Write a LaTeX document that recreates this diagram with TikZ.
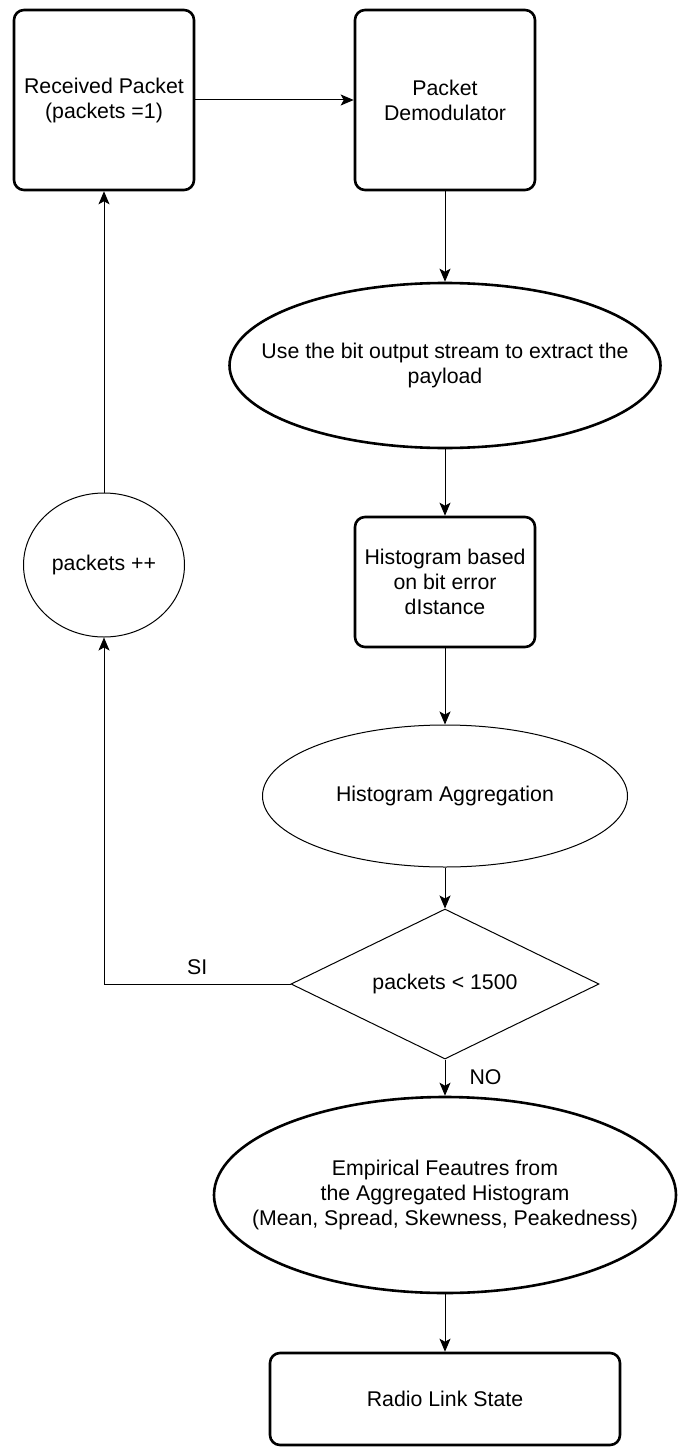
\documentclass[tikz,border=0pt]{standalone}
\usepackage{fontspec}
\setmainfont{Liberation Sans}
\usetikzlibrary{shapes.geometric, arrows.meta}

\begin{document}
\begin{tikzpicture}[x = 1pt, y = -1pt, line width = 1pt, >={Stealth[length = 13pt, width = 11pt, inset = 3pt]},
	every node/.style = {inner sep = 0pt, align = center, font = \fontsize{21.3}{25}\selectfont},
	blk/.style = {draw = black, shape = rectangle, rounded corners = 10pt, line width = 2.6pt, minimum width = 180pt},
	ovl/.style = {draw = black, shape = ellipse, inner xsep = -40pt},
	cnd/.style = {draw = black, shape = diamond, aspect = 2}]
	\useasboundingbox (0, 0) rectangle (677, 1447);
    	\node[blk, minimum height = 180pt] (A) at (104, 100) {Received Packet\\(packets =1)};
    	\node[blk, minimum height = 180pt] (B) at (445, 100) {Packet\\Demodulator};
    	\node[ovl, line width = 2.6pt, minimum width = 431pt, minimum height = 165pt] (C) at (445, 365.5) {Use the bit output stream to extract the\\payload};
    	\node[blk, minimum height = 130pt] (D) at (445, 582) {Histogram based\\on bit error\\dIstance};
	\node[ovl, minimum width = 161pt, minimum height = 144pt] (E) at (104, 565) {packets ++};
    	\node[ovl, minimum width = 365pt, minimum height = 142pt] (F) at (445, 796) {Histogram Aggregation};
    	\node[cnd, minimum width = 308pt, minimum height = 150pt] (G) at (445, 984) {packets < 1500};
    	\node[ovl, line width = 2.6pt, minimum width = 462pt, minimum height = 196pt] (H) at (445, 1195) {Empirical Feautres from\\the Aggregated Histogram\\(Mean, Spread, Skewness, Peakedness)};
    	\node[blk, minimum width = 350pt, minimum height = 92pt] (I) at (445, 1399) {Radio Link State};

	\draw[->] (A.east) -- (B.west);
	\draw[->] (B.south) -- (C.north);
	\draw[->] (C.south) -- (D.north);
	\draw[->] (D.south) -- (F.north);
	\draw[->] (F.south) -- (G.north);
	\draw[->] (G.south) -- node[pos = .5, right = 24pt] {NO} (H.north);
	\draw[->] (H.south) -- (I.north);
	\draw[->] (G.west) -| node[pos = .25, above = 9pt] {SI} (E.south);
	\draw[->] (E.north) -- (A.south);
    \end{tikzpicture}
\end{document}
